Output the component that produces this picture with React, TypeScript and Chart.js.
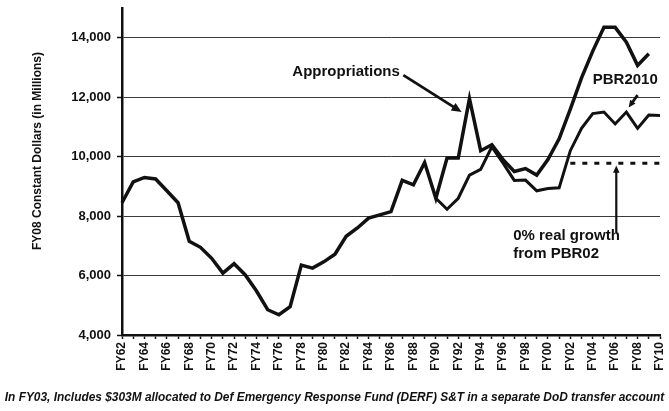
import React, { useEffect, useRef } from 'react';
import { Chart, registerables } from 'chart.js';

Chart.register(...registerables);

// ---- data ----
const fiscalYears = [
  'FY62', 'FY63', 'FY64', 'FY65', 'FY66', 'FY67', 'FY68', 'FY69', 'FY70', 'FY71',
  'FY72', 'FY73', 'FY74', 'FY75', 'FY76', 'FY77', 'FY78', 'FY79', 'FY80', 'FY81',
  'FY82', 'FY83', 'FY84', 'FY85', 'FY86', 'FY87', 'FY88', 'FY89', 'FY90', 'FY91',
  'FY92', 'FY93', 'FY94', 'FY95', 'FY96', 'FY97', 'FY98', 'FY99', 'FY00', 'FY01',
  'FY02', 'FY03', 'FY04', 'FY05', 'FY06', 'FY07', 'FY08', 'FY09', 'FY10',
];

const appropriations = [
  8450, 9150, 9300, 9250, 8850, 8450, 7150, 6950, 6580, 6080,
  6400, 6020, 5480, 4850, 4680, 4950, 6350, 6250, 6460, 6720,
  7320, 7600, 7930, 8040, 8150, 9200, 9050, 9800, 8600, 9950,
  9950, 11950, 10200, 10400, 9900, 9500, 9600, 9380, 9900, 10600,
  11600, 12650, 13550, 14350, 14350, 13850, 13070, 13460, null,
];

const pbr2010 = [
  null, null, null, null, null, null, null, null, null, null,
  null, null, null, null, null, null, null, null, null, null,
  null, null, null, null, null, null, null, null, 8600, 8230,
  8600, 9380, 9570, 10330, 9780, 9200, 9210, 8850, 8930, 8950,
  10200, 10950, 11450, 11500, 11100, 11500, 10950, 11400, 11380,
];

const zeroRealGrowth = [
  null, null, null, null, null, null, null, null, null, null,
  null, null, null, null, null, null, null, null, null, null,
  null, null, null, null, null, null, null, null, null, null,
  null, null, null, null, null, null, null, null, null, null,
  9780, 9780, 9780, 9780, 9780, 9780, 9780, 9780, 9780,
];

const yTickValues = [4000, 6000, 8000, 10000, 12000, 14000];

const yAxisTitle = 'FY08 Constant Dollars (in Millions)';
const footnote =
  'In FY03, Includes $303M allocated to Def Emergency Response Fund (DERF) S&T in a separate DoD transfer account';

// annotation anchors in data coordinates [category index, value]
const apprLabelAt = [15.2, 12860];
const apprArrowFrom = [25.1, 12740];
const apprArrowTo = [30.3, 11500];
const pbrLabelAt = [42.0, 12580];
const pbrArrowFrom = [46.0, 12070];
const pbrArrowTo = [45.2, 11650];
const zeroLabelAt = [34.9, 7330];
const zeroLabel2At = [34.9, 6730];
const zeroArrowFrom = [44.1, 7450];
const zeroArrowTo = [44.1, 9700];

const FONT = '"Liberation Sans", Arial, Helvetica, sans-serif';

function drawArrow(ctx: CanvasRenderingContext2D, x1: number, y1: number, x2: number, y2: number, lw: number, head: number) {
  const ang = Math.atan2(y2 - y1, x2 - x1);
  ctx.lineWidth = lw;
  ctx.beginPath();
  ctx.moveTo(x1, y1);
  ctx.lineTo(x2 - Math.cos(ang) * head * 0.7, y2 - Math.sin(ang) * head * 0.7);
  ctx.stroke();
  ctx.beginPath();
  ctx.moveTo(x2, y2);
  ctx.lineTo(x2 - head * Math.cos(ang - 0.42), y2 - head * Math.sin(ang - 0.42));
  ctx.lineTo(x2 - head * Math.cos(ang + 0.42), y2 - head * Math.sin(ang + 0.42));
  ctx.closePath();
  ctx.fill();
}

const annotationsPlugin = {
  id: 'annotations',
  afterDraw(chart: any) {
    const { ctx, scales } = chart;
    const x = scales.x;
    const y = scales.y;
    const px = (p: number[]) => [x.getPixelForValue(p[0]), y.getPixelForValue(p[1])];
    ctx.save();
    ctx.fillStyle = '#111';
    ctx.strokeStyle = '#111';
    ctx.textBaseline = 'middle';
    ctx.textAlign = 'left';
    ctx.font = `bold 15px ${FONT}`;
    let p = px(apprLabelAt);
    ctx.fillText('Appropriations', p[0], p[1]);
    p = px(pbrLabelAt);
    ctx.fillText('PBR2010', p[0], p[1]);
    p = px(zeroLabelAt);
    ctx.fillText('0% real growth', p[0], p[1]);
    p = px(zeroLabel2At);
    ctx.fillText('from PBR02', p[0], p[1]);

    let a = px(apprArrowFrom), b = px(apprArrowTo);
    drawArrow(ctx, a[0], a[1], b[0], b[1], 2.8, 11);
    a = px(pbrArrowFrom); b = px(pbrArrowTo);
    drawArrow(ctx, a[0], a[1], b[0], b[1], 2.8, 8);
    a = px(zeroArrowFrom); b = px(zeroArrowTo);
    drawArrow(ctx, a[0], a[1], b[0], b[1], 2.2, 8);

    // y-axis title
    ctx.save();
    ctx.translate(38, 151);
    ctx.rotate(-Math.PI / 2);
    ctx.textAlign = 'center';
    ctx.font = `bold 12px ${FONT}`;
    ctx.fillText(yAxisTitle, 0, 0);
    ctx.restore();

    // footnote
    ctx.textAlign = 'center';
    ctx.font = `italic bold 11.9px ${FONT}`;
    ctx.fillText(footnote, chart.width / 2, chart.height - 13);
    ctx.restore();
  },
};

export default function App() {
  const canvasRef = useRef<HTMLCanvasElement | null>(null);

  useEffect(() => {
    const canvas = canvasRef.current;
    if (!canvas) return;
    const chart = new Chart(canvas, {
      type: 'line',
      data: {
        labels: fiscalYears,
        datasets: [
          {
            label: 'Appropriations',
            data: appropriations,
            borderColor: '#111',
            borderWidth: 3.5,
            pointRadius: 0,
            tension: 0,
            spanGaps: false,
          },
          {
            label: 'PBR2010',
            data: pbr2010,
            borderColor: '#111',
            borderWidth: 3,
            pointRadius: 0,
            tension: 0,
          },
          {
            label: '0% real growth from PBR02',
            data: zeroRealGrowth,
            borderColor: '#111',
            borderWidth: 3,
            borderDash: [5, 7],
            pointRadius: 0,
            tension: 0,
          },
        ],
      },
      options: {
        animation: false,
        responsive: true,
        maintainAspectRatio: false,
        layout: { padding: { top: 8, right: 9, bottom: 22, left: 0 } },
        plugins: {
          legend: { display: false },
          tooltip: { enabled: false },
          title: { display: false },
        },
        scales: {
          x: {
            type: 'category',
            offset: false,
            afterFit: (scale: any) => {
              scale.height = 54;
              scale.paddingLeft = 0;
              scale.paddingRight = 0;
            },
            grid: {
              drawOnChartArea: false,
              drawTicks: true,
              tickLength: 4,
              tickColor: '#111',
              tickWidth: 1.5,
            },
            border: { display: true, color: '#111', width: 2.5 },
            ticks: {
              autoSkip: false,
              maxRotation: 90,
              minRotation: 90,
              padding: 3,
              color: '#111',
              font: { family: FONT, size: 12, weight: 'bold' },
              callback: function (this: any, val: any, idx: number) {
                return idx % 2 === 0 ? fiscalYears[idx] : '';
              },
            },
          },
          y: {
            type: 'linear',
            min: 4000,
            max: 15000,
            afterFit: (scale: any) => {
              scale.width = 122;
              scale.paddingTop = 0;
              scale.paddingBottom = 0;
            },
            afterBuildTicks: (scale: any) => {
              scale.ticks = yTickValues.map((v) => ({ value: v }));
            },
            grid: {
              color: '#3a3a3a',
              lineWidth: 1,
              tickLength: 5,
              tickColor: '#111',
              tickWidth: 1.5,
            },
            border: { display: true, color: '#111', width: 2.5 },
            ticks: {
              color: '#111',
              padding: 6,
              font: { family: FONT, size: 13, weight: 'bold' },
              callback: (v: any) => Number(v).toLocaleString('en-US'),
            },
          },
        },
      },
      plugins: [annotationsPlugin],
    });
    return () => chart.destroy();
  }, []);

  return (
    <div style={{ position: 'fixed', left: 0, top: 0, width: 669, height: 411, background: '#fff' }}>
      <canvas ref={canvasRef} />
    </div>
  );
}
